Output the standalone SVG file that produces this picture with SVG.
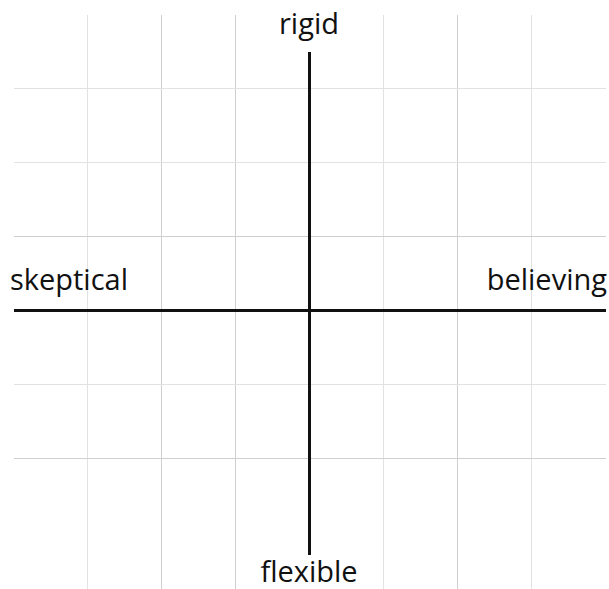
<svg xmlns="http://www.w3.org/2000/svg" width="609" height="589" viewBox="0 0 609 589">
<style>
.g{stroke:#e2e2e2;stroke-width:1;fill:none}
.gd{stroke:#cfcfcf;stroke-width:1;fill:none}
.ax{stroke:#111;stroke-width:3;fill:none}
.lb{font-family:"Open Sans","Noto Sans",sans-serif;font-size:29px;fill:#111}
</style>
<rect width="609" height="589" fill="#fff"/>
<g id="grid">
<line class="g" x1="87.5" y1="15" x2="87.5" y2="589"/>
<line class="gd" x1="161.5" y1="15" x2="161.5" y2="589"/>
<line class="gd" x1="235.5" y1="15" x2="235.5" y2="589"/>
<line class="g" x1="383.5" y1="15" x2="383.5" y2="589"/>
<line class="gd" x1="457.5" y1="15" x2="457.5" y2="589"/>
<line class="g" x1="531.5" y1="15" x2="531.5" y2="589"/>
<line class="g" x1="14" y1="88.5" x2="606" y2="88.5"/>
<line class="g" x1="14" y1="162.5" x2="606" y2="162.5"/>
<line class="gd" x1="14" y1="236.5" x2="606" y2="236.5"/>
<line class="g" x1="14" y1="384.5" x2="606" y2="384.5"/>
<line class="gd" x1="14" y1="458.5" x2="606" y2="458.5"/>
</g>
<g id="axes">
<line class="ax" x1="14" y1="310.5" x2="606" y2="310.5"/>
<line class="ax" x1="309.5" y1="52" x2="309.5" y2="555"/>
</g>
<g id="rigid"><text class="lb" x="309" y="34" text-anchor="middle">rigid</text></g>
<g id="flexible"><text class="lb" x="309" y="582" text-anchor="middle">flexible</text></g>
<g id="skeptical"><text class="lb" x="10" y="290" textLength="118" lengthAdjust="spacingAndGlyphs">skeptical</text></g>
<g id="believing"><text class="lb" x="607" y="290" text-anchor="end">believing</text></g>
</svg>
